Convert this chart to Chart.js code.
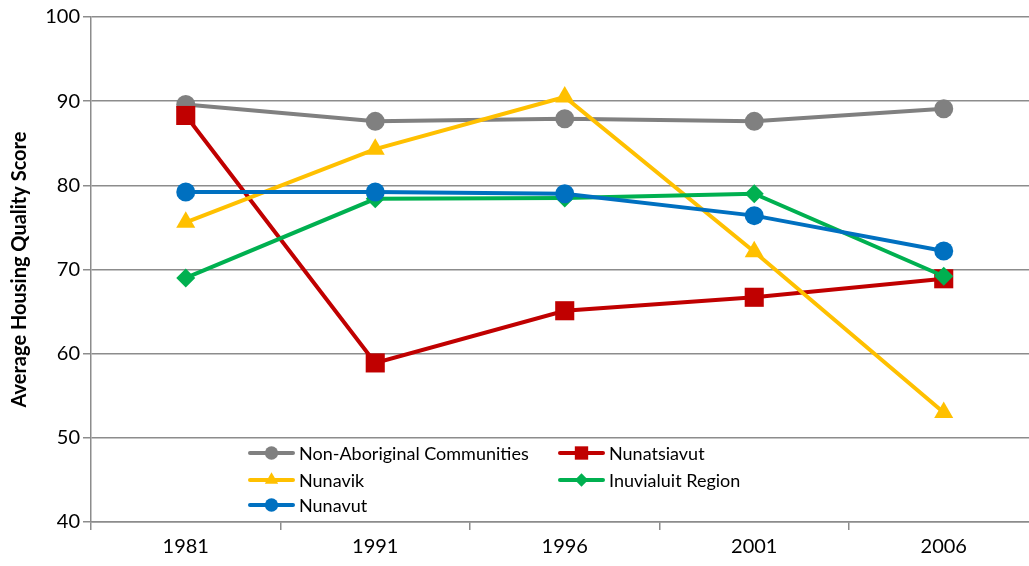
<!DOCTYPE html>
<html>
<head>
<meta charset="utf-8">
<script src="https://cdn.jsdelivr.net/npm/chart.js@4"></script>
<style>
  html, body { margin: 0; padding: 0; background: #fff; overflow: hidden; }
</style>
</head>
<body>
<canvas id="housingChart" width="1029" height="566"></canvas>
<script>
var years = ['1981', '1991', '1996', '2001', '2006'];
var nonAboriginal = [89.6, 87.6, 87.9, 87.6, 89.1];
var nunatsiavut = [88.3, 58.9, 65.1, 66.7, 68.9];
var nunavik = [75.6, 84.3, 90.5, 72.1, 53.0];
var inuvialuit = [69.0, 78.4, 78.5, 79.0, 69.2];
var nunavut = [79.2, 79.2, 79.0, 76.4, 72.2];

var FONT = 'Lato, "Open Sans", sans-serif';
Chart.defaults.font.family = FONT;
Chart.defaults.color = '#000';

// legend drawn inside the plot area, two columns like the original
var innerLegend = {
    id: 'innerLegend',
    afterDraw: function (chart) {
        var ctx = chart.ctx;
        var area = chart.chartArea;
        var cols = [area.left + 159, area.left + 469];
        var rows = [area.bottom - 69, area.bottom - 42, area.bottom - 17];
        chart.data.datasets.forEach(function (ds, i) {
            var x = cols[i % 2];
            var y = rows[Math.floor(i / 2)];
            ctx.save();
            ctx.strokeStyle = ds.borderColor;
            ctx.lineWidth = 4;
            ctx.lineCap = 'round';
            ctx.beginPath();
            ctx.moveTo(x, y);
            ctx.lineTo(x + 43, y);
            ctx.stroke();
            ctx.fillStyle = ds.borderColor;
            var cx = x + 21.5, r = ds.pointRadius * 0.7;
            ctx.beginPath();
            if (ds.pointStyle === 'circle') {
                ctx.arc(cx, y, r, 0, Math.PI * 2);
            } else if (ds.pointStyle === 'rect') {
                var s = r * Math.SQRT1_2;
                ctx.rect(cx - s, y - s, 2 * s, 2 * s);
            } else if (ds.pointStyle === 'triangle') {
                ctx.moveTo(cx, y - r);
                ctx.lineTo(cx + r * 0.866, y + r * 0.5);
                ctx.lineTo(cx - r * 0.866, y + r * 0.5);
                ctx.closePath();
            } else if (ds.pointStyle === 'rectRot') {
                ctx.moveTo(cx, y - r);
                ctx.lineTo(cx + r, y);
                ctx.lineTo(cx, y + r);
                ctx.lineTo(cx - r, y);
                ctx.closePath();
            }
            ctx.fill();
            ctx.fillStyle = '#000';
            ctx.font = '18px ' + FONT;
            ctx.textBaseline = 'middle';
            ctx.fillText(ds.label, x + 49, y + 1);
            ctx.restore();
        });
    }
};

function series(label, values, color, style, radius, order) {
    return {
        label: label,
        data: values.map(function (v, i) { return { x: i, y: v }; }),
        borderColor: color,
        backgroundColor: color,
        pointBackgroundColor: color,
        pointBorderColor: color,
        borderWidth: 4,
        pointStyle: style,
        pointRadius: radius,
        pointHoverRadius: radius,
        pointBorderWidth: 0,
        tension: 0,
        order: order
    };
}

// the original plot runs past the right edge of the image, so the last band is cut short
var X_MIN = -0.5, X_MAX = 4.45;

var ctx = document.getElementById('housingChart').getContext('2d');
var chart = new Chart(ctx, {
    type: 'line',
    data: {
        datasets: [
            series('Non-Aboriginal Communities', nonAboriginal, '#808080', 'circle', 9.5, 5),
            series('Nunatsiavut', nunatsiavut, '#C00000', 'rect', 13.5, 4),
            series('Nunavik', nunavik, '#FFC000', 'triangle', 11, 3),
            series('Inuvialuit Region', inuvialuit, '#00B050', 'rectRot', 9.5, 2),
            series('Nunavut', nunavut, '#0070C0', 'circle', 9.5, 1)
        ]
    },
    options: {
        responsive: false,
        animation: false,
        layout: { autoPadding: false, padding: { top: 17, right: 0, left: 0, bottom: 0 } },
        plugins: {
            legend: { display: false },
            tooltip: { enabled: false }
        },
        scales: {
            x: {
                type: 'linear',
                min: X_MIN,
                max: X_MAX,
                afterBuildTicks: function (s) {
                    var t = [];
                    for (var v = -0.5; v <= X_MAX; v += 0.5) t.push({ value: v });
                    s.ticks = t;
                },
                grid: {
                    drawOnChartArea: false,
                    drawTicks: true,
                    tickLength: 8,
                    tickColor: function (c) {
                        return c.tick && Number.isInteger(c.tick.value) ? 'rgba(0,0,0,0)' : '#8c8c8c';
                    },
                    tickWidth: 1.5,
                    color: '#8c8c8c',
                    lineWidth: 1.5
                },
                border: { color: '#8c8c8c', width: 1.5 },
                ticks: {
                    autoSkip: false,
                    maxRotation: 0,
                    color: '#000',
                    font: { family: FONT, size: 20 },
                    padding: 5,
                    callback: function (v) {
                        return Number.isInteger(v) ? years[v] : '';
                    }
                },
                afterFit: function (s) { s.height = 44; }
            },
            y: {
                min: 40,
                max: 100,
                ticks: { stepSize: 10, color: '#000', font: { family: FONT, size: 20 }, padding: 3 },
                grid: { color: '#8c8c8c', lineWidth: 1.5, tickLength: 8 },
                border: { color: '#8c8c8c', width: 1.5 },
                title: {
                    display: true,
                    text: 'Average Housing Quality Score',
                    color: '#000',
                    font: { family: FONT, size: 20, weight: 'bold' },
                    padding: { top: 8, bottom: 4 }
                },
                afterFit: function (s) { s.width = 91; }
            }
        }
    },
    plugins: [innerLegend]
});
</script>
</body>
</html>
